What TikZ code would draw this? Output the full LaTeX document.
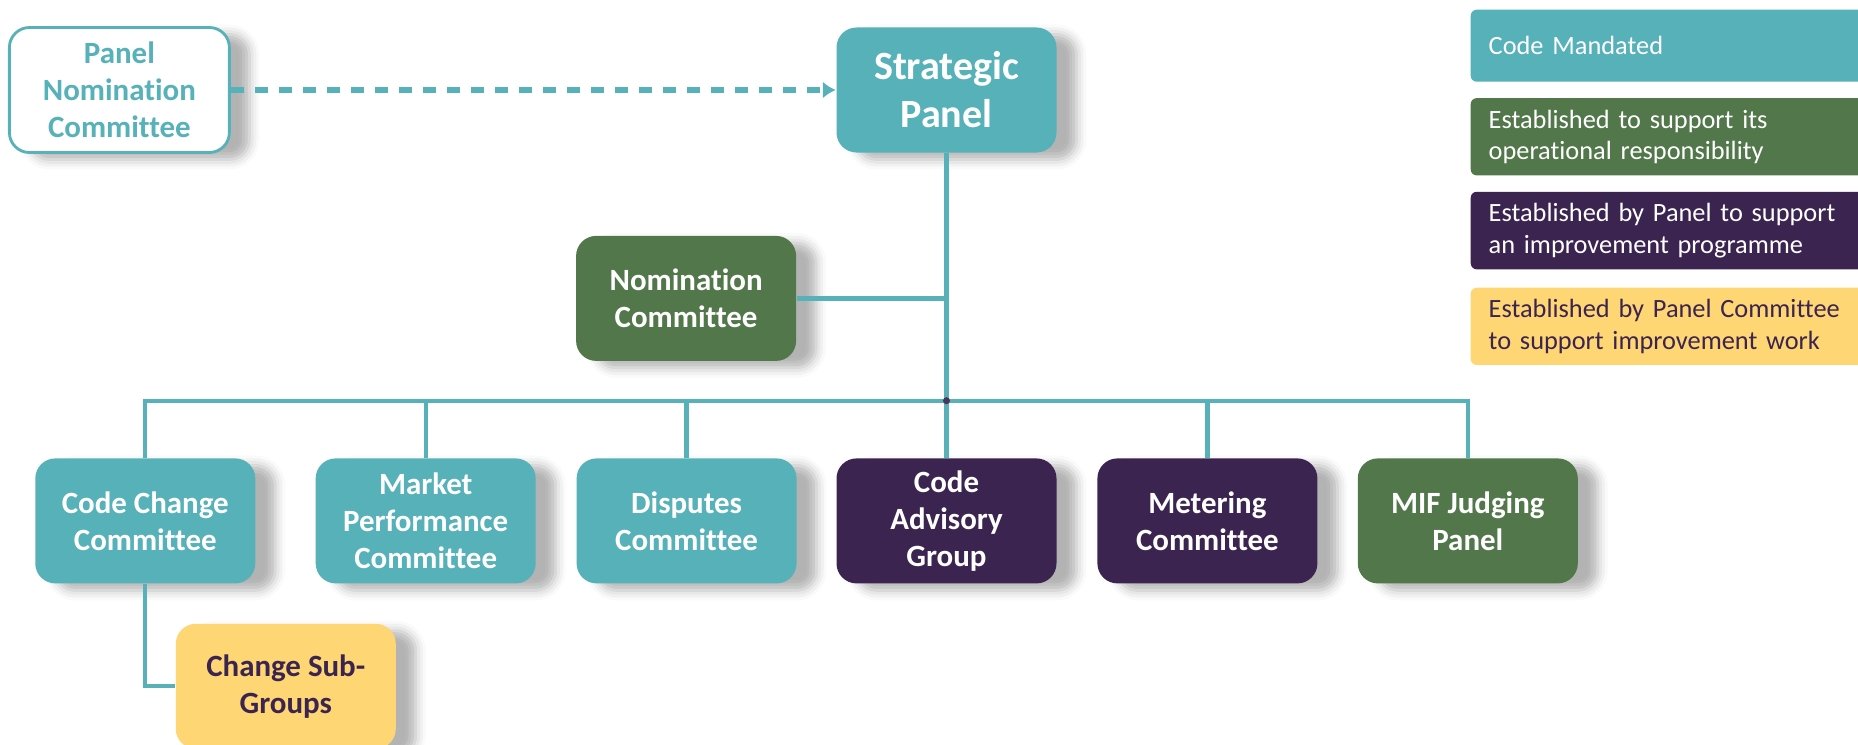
\documentclass[tikz,border=0pt]{standalone}
\usepackage{fontspec}
\setmainfont{Carlito}[Ligatures=NoCommon]
\usepackage{xcolor}
\usetikzlibrary{arrows.meta, positioning, shadows.blur}

\definecolor{cteal}{HTML}{57B1B8}
\definecolor{cgreen}{HTML}{52774A}
\definecolor{cplum}{HTML}{3B2450}
\definecolor{cgold}{HTML}{FED673}

\begin{document}
\begin{tikzpicture}

    % Define style for boxes
    \tikzstyle{box} = [rectangle, rounded corners=0.2cm, minimum width=2.2cm, minimum height=1.25cm, text centered, align=center, font=\bfseries\fontsize{8.8}{10.5}\selectfont, blur shadow={shadow xshift=0.2cm, shadow yshift=-0.07cm, shadow blur radius=0.1cm, shadow opacity=30}]
    \tikzstyle{mandated} = [box, fill=cteal, text=white]
    \tikzstyle{operational} = [box, fill=cgreen, text=white]
    \tikzstyle{programme} = [box, fill=cplum, text=white]
    \tikzstyle{subwork} = [box, fill=cgold, text=cplum]
    \tikzstyle{key} = [rectangle, rounded corners=0.06cm, minimum height=0.72cm, text width=3.6cm, inner xsep=0.18cm, align=left, font=\fontsize{7.5}{8.9}\selectfont, text=white]
    \tikzstyle{link} = [draw=cteal, line width=1.2pt]

    \useasboundingbox (0,0) rectangle (18.58,7.44);

    % Nodes
    \node (sp) [mandated, font=\bfseries\fontsize{11.4}{13.7}\selectfont] at (9.465,6.54) {Strategic\\Panel};
    \node (pnc) [box, fill=white, draw=cteal, line width=0.8pt, text=cteal, left=6.05cm of sp] {Panel\\Nomination\\Committee};
    \node (nom) [operational, below left=0.82cm and 0.39cm of sp] {Nomination\\Committee};

    \node (cag) [programme, below=3.045cm of sp] {Code\\Advisory\\Group};
    \node (dc) [mandated, left=0.385cm of cag] {Disputes\\Committee};
    \node (mpc) [mandated, left=0.395cm of dc] {Market\\Performance\\Committee};
    \node (ccc) [mandated, left=0.59cm of mpc] {Code Change\\Committee};
    \node (mc) [programme, right=0.395cm of cag] {Metering\\Committee};
    \node (mif) [operational, right=0.39cm of mc] {MIF Judging\\Panel};

    \node (csg) [subwork, below=0.39cm of ccc, xshift=1.405cm] {Change Sub-\\Groups};

    % Key
    \node (k1) [key, fill=cteal, anchor=north west] at (14.70,7.35) {Code Mandated};
    \node (k2) [key, fill=cgreen, below=0.15cm of k1] {Established to support its\\operational responsibility};
    \node (k3) [key, fill=cplum, below=0.15cm of k2] {Established by Panel to support\\an improvement programme};
    \node (k4) [key, fill=cgold, text=cplum, below=0.17cm of k3] {Established by Panel Committee\\to support improvement work};

    % Lines
    \draw[link, dash pattern=on 0.13cm off 0.11cm, line width=1.5pt, -{Latex[length=0.13cm,width=0.17cm]}] (pnc) -- (sp);

    \path (sp.south) ++(0,-2.475) coordinate (hub);
    \draw[link] (sp) -- (cag);
    \draw[link] (nom) -- (nom -| sp);
    \draw[link] (hub) -| (ccc);
    \draw[link] (hub) -| (mpc);
    \draw[link] (hub) -| (dc);
    \draw[link] (hub) -| (mc);
    \draw[link] (hub) -| (mif);
    \draw[link] (ccc) |- (csg);
    \fill[cplum!80!gray] (hub) circle (0.035);

\end{tikzpicture}
\end{document}
